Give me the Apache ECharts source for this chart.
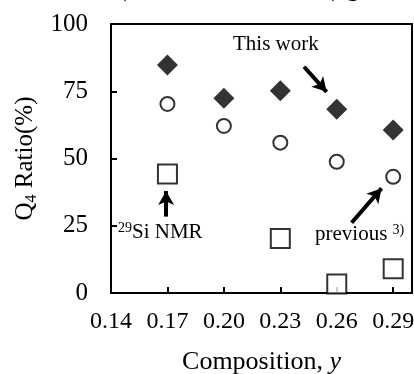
<!DOCTYPE html>
<html><head><meta charset="utf-8">
<script src="https://cdn.jsdelivr.net/npm/echarts@6/dist/echarts.min.js"></script>
<style>html,body{margin:0;padding:0;background:#fff}#c{width:414px;height:374px}</style>
</head><body><div id="c"></div>
<script>
var compositions = [0.17, 0.20, 0.23, 0.26, 0.29];
var thisWork = [84.8, 72.4, 75.2, 68.3, 60.6];
var previous = [70.3, 62.1, 55.9, 48.8, 43.2];
var nmrX = [0.17, 0.23, 0.26, 0.29];
var nmr = [44.2, 20.3, 3.3, 9.0];
var yTicks = [0, 25, 50, 75, 100];
var xTicks = ['0.14', '0.17', '0.20', '0.23', '0.26', '0.29'];

var F = 'Liberation Serif, Times New Roman, serif';
function pairs(xs, ys){ return xs.map(function(x,i){return [x, ys[i]];}); }

var chart = echarts.init(document.getElementById('c'));
chart.setOption({
  animation:false,
  backgroundColor:'#fff',
  grid:{left:111,right:2,top:24,bottom:81,show:true,borderColor:'#000',borderWidth:2,backgroundColor:'transparent',
    containLabel:false,outerBoundsMode:'none'},
  xAxis:{type:'value',min:0.14,max:0.30,interval:0.03,
    name:'Composition, {i|y}',nameLocation:'middle',nameGap:56,
    nameTextStyle:{fontFamily:F,fontSize:26,color:'#000',rich:{i:{fontFamily:F,fontSize:26,fontStyle:'italic',color:'#000'}}},
    axisLine:{lineStyle:{color:'#000',width:2}},
    axisTick:{inside:true,length:6,lineStyle:{color:'#000',width:2}},
    axisLabel:{fontFamily:F,fontSize:24,color:'#000',margin:17,showMaxLabel:false,
      formatter:function(v){var s=v.toFixed(2);return xTicks.indexOf(s)>=0?s:'';}},
    splitLine:{show:false}},
  yAxis:{type:'value',min:0,max:100,interval:25,
    name:'Q{s|4} Ratio(%)',nameLocation:'middle',nameGap:64,
    nameTextStyle:{fontFamily:F,fontSize:25,color:'#000',rich:{s:{fontFamily:F,fontSize:16,color:'#000',padding:[12,0,0,0]}}},
    axisLine:{lineStyle:{color:'#000',width:2}},
    axisTick:{inside:true,length:6,lineStyle:{color:'#000',width:2}},
    axisLabel:{fontFamily:F,fontSize:25,color:'#000',margin:23,
      formatter:function(v){return yTicks.indexOf(v)>=0?String(v):'';}},
    splitLine:{show:false}},
  series:[
    {type:'scatter',name:'This work',data:pairs(compositions,thisWork),symbol:'diamond',symbolSize:[21,21],
      itemStyle:{color:'#000'},
      markLine:{silent:true,symbol:['none','arrow'],symbolSize:[12,14],label:{show:false},
        lineStyle:{color:'#000',width:4,type:'solid'},
        data:[
          [{coord:[0.2426,84.1]},{coord:[0.2546,74.8]}],
          [{coord:[0.1693,28.4]},{coord:[0.1693,37.9]}],
          [{coord:[0.2679,26.1]},{coord:[0.2838,38.9]}]
        ]}},
    {type:'scatter',name:'previous',data:pairs(compositions,previous),symbol:'circle',symbolSize:14,
      itemStyle:{color:'#fff',borderColor:'#000',borderWidth:2}},
    {type:'scatter',name:'29Si NMR',data:pairs(nmrX,nmr),symbol:'rect',symbolSize:19,
      itemStyle:{color:'#fff',borderColor:'#000',borderWidth:2}}
  ],
  graphic:[
    {type:'text',left:118,top:-24,style:{text:'(0.4ErO{s|1.5} – 0.6SiO{s|2}) glasses',fontFamily:F,fontSize:26,fill:'#000',
      rich:{s:{fontFamily:F,fontSize:17,fill:'#000',padding:[10,0,0,0]}}}},
    {type:'text',left:233,top:34,style:{text:'This work',fontFamily:F,fontSize:21,fill:'#000'}},
    {type:'text',left:118,top:221,style:{text:'{s|29}Si NMR',fontFamily:F,fontSize:21,fill:'#000',
      rich:{s:{fontFamily:F,fontSize:14,fill:'#000',padding:[0,0,9,0]}}}},
    {type:'text',left:315,top:223,style:{text:'previous {s|3)}',fontFamily:F,fontSize:21,fill:'#000',
      rich:{s:{fontFamily:F,fontSize:14,fill:'#000',padding:[0,0,9,0]}}}}
  ]
});
</script></body></html>
